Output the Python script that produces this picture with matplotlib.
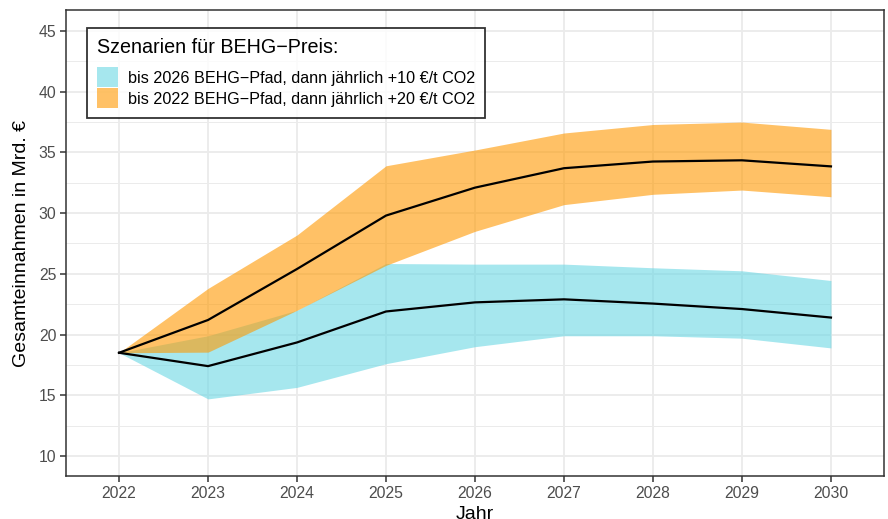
import matplotlib
matplotlib.use("Agg")
import matplotlib.pyplot as plt
from matplotlib.patches import Patch
import numpy as np

plt.rcParams["font.family"] = ["Liberation Sans", "DejaVu Sans"]

years = [2022, 2023, 2024, 2025, 2026, 2027, 2028, 2029, 2030]

# Szenario +10 €/t (ab 2026)
low10 = [18.5, 14.7, 15.65, 17.6, 19.0, 19.9, 19.9, 19.7, 18.9]
mid10 = [18.5, 17.4, 19.35, 21.9, 22.65, 22.9, 22.55, 22.1, 21.4]
high10 = [18.5, 19.9, 22.0, 25.85, 25.8, 25.8, 25.5, 25.25, 24.45]

# Szenario +20 €/t (ab 2022)
low20 = [18.5, 18.55, 22.0, 25.7, 28.5, 30.7, 31.55, 31.9, 31.35]
mid20 = [18.5, 21.2, 25.4, 29.8, 32.1, 33.7, 34.25, 34.35, 33.85]
high20 = [18.5, 23.8, 28.2, 33.9, 35.2, 36.6, 37.3, 37.5, 36.9]

labels = ["bis 2026 BEHG\u2212Pfad, dann jährlich +10 €/t CO2",
          "bis 2022 BEHG\u2212Pfad, dann jährlich +20 €/t CO2"]
yticks = [10, 15, 20, 25, 30, 35, 40, 45]

CYAN = "#6BD7E4"
ORANGE = "#FF9900"
ALPHA = 0.6

fig = plt.figure(figsize=(8.88, 5.19), dpi=100)
ax = fig.add_axes([66 / 888, 1 - 476 / 519, (884 - 66) / 888, (476 - 10) / 519])

ax.fill_between(years, low10, high10, color=CYAN, alpha=ALPHA, lw=0, zorder=2)
ax.fill_between(years, low20, high20, color=ORANGE, alpha=ALPHA, lw=0, zorder=3)
ax.plot(years, mid10, color="black", lw=1.6, zorder=4)
ax.plot(years, mid20, color="black", lw=1.6, zorder=4)

ax.set_xlim(2021.404, 2030.596)
ax.set_ylim(8.35, 46.73)
ax.set_xticks(years)
ax.set_yticks(yticks)
ax.set_yticks(np.array(yticks[:-1]) + 2.5, minor=True)

ax.grid(which="major", color="#EBEBEB", lw=1.3, zorder=0)
ax.grid(which="minor", axis="y", color="#EBEBEB", lw=0.7, zorder=0)
ax.set_axisbelow(True)
for s in ax.spines.values():
    s.set_color("#333333")
    s.set_linewidth(1.1)
ax.tick_params(which="major", length=4, width=1.1, color="#333333",
               labelcolor="#4D4D4D", labelsize=11.3, pad=3)
ax.tick_params(which="minor", length=0)

# the reference crops the x title at the bottom edge
ax.set_xlabel("Jahr", fontsize=14, labelpad=4)
ax.set_ylabel("Gesamteinnahmen in Mrd. €", fontsize=14, labelpad=6)

handles = [Patch(facecolor=CYAN, alpha=ALPHA, lw=0),
           Patch(facecolor=ORANGE, alpha=ALPHA, lw=0)]
leg = ax.legend(handles, labels, title="Szenarien für BEHG\u2212Preis:",
                loc="upper left", bbox_to_anchor=((87 - 66) / 818, 1 - (28 - 10) / 466),
                fontsize=11.6, title_fontsize=14.2, alignment="left",
                frameon=True, fancybox=False, edgecolor="black",
                handlelength=1.3, handleheight=1.53, handletextpad=0.62,
                labelspacing=0.06, borderpad=0.62, borderaxespad=0)
leg.get_frame().set_linewidth(1.3)
leg._legend_box.sep = 7.5  # gap between title and entries (points)

fig.savefig("out.png", dpi=100)
